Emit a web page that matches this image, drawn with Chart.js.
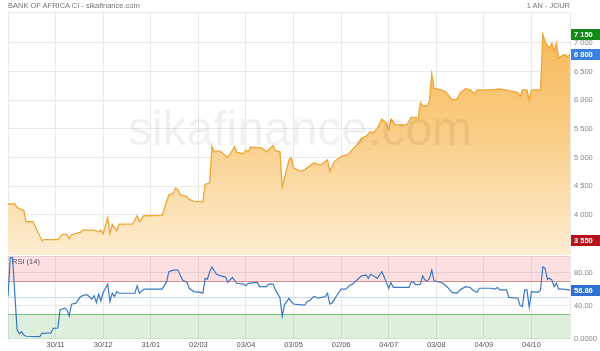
<!DOCTYPE html>
<html>
<head>
<meta charset="utf-8">
<script src="https://cdn.jsdelivr.net/npm/chart.js@4.4.1/dist/chart.umd.min.js"></script>
<style>
  body { margin: 0; background: #fff; }
  #wrap { position: relative; width: 600px; height: 351px; overflow: hidden; font-family: "Liberation Sans", Arial, sans-serif; }
  canvas { position: absolute; left: 0; }
  #priceCanvas { top: 0; }
  #rsiCanvas { top: 256px; }
  .txt { position: absolute; font-size: 7.5px; line-height: 9px; color: #777; white-space: nowrap; }
  #title { left: 8px; top: 1px; }
  #period { right: 30px; top: 1px; }
  #rsiName { left: 12px; top: 257px; color: #556; }
  #mark { left: 0; width: 600px; top: 105px; text-align: center; font-size: 48px; line-height: 48px; color: rgba(0, 0, 0, 0.06); pointer-events: none; }
</style>
</head>
<body>
<div id="wrap">
  <canvas id="priceCanvas" width="600" height="256"></canvas>
  <canvas id="rsiCanvas" width="600" height="95"></canvas>
  <div class="txt" id="title">BANK OF AFRICA CI - sikafinance.com</div>
  <div class="txt" id="period">1 AN - JOUR</div>
  <div class="txt" id="rsiName">RSI (14)</div>
  <div class="txt" id="mark">sikafinance.com</div>
</div>
<script>
// Daily session index (0 = first session of the year window)
const priceDays = [0, 3, 4, 7, 8, 11, 15, 16, 22, 24, 26, 27, 28, 32, 33, 38, 40, 41, 42, 44, 45, 46, 48, 49, 55, 57, 58, 60, 68,
  71, 73, 74, 75, 76, 79, 80, 82, 86, 87, 89, 90, 91, 93, 94, 97, 100, 101, 104, 105, 106, 107, 112, 114, 116, 117, 118, 120,
  121, 124, 125, 126, 129, 131, 135, 138, 141, 142, 144, 147, 150, 152, 154, 156, 158, 160, 161, 163, 165, 167, 168, 169, 171,
  176, 178, 181, 182, 183, 185, 186, 187, 188, 191, 193, 195, 196, 198, 200, 202, 204, 206, 207, 213, 217, 221, 225, 226, 227,
  229, 230, 231, 235, 236, 237, 239, 240, 241, 242, 243, 245, 246, 247, 248];
const priceVals = [4190, 4190, 4130, 4075, 3880, 3880, 3550, 3570, 3570, 3660, 3660, 3580, 3650, 3700, 3735, 3735, 3700, 3735, 3670, 3950, 3670, 3830, 3720, 3840, 3840, 3985, 3880, 3985, 3990,
  4350, 4380, 4470, 4440, 4350, 4320, 4270, 4235, 4230, 4530, 4560, 5195, 5100, 5120, 5100, 5000, 5190, 5090, 5070, 5130, 5100, 5180, 5170, 5100, 5170, 5210, 5120, 5100,
  4490, 4960, 5000, 4820, 4760, 4790, 4905, 4870, 4960, 4760, 4930, 5020, 5050, 5140, 5220, 5340, 5370, 5455, 5430, 5510, 5670, 5600, 5485, 5670, 5570,
  5570, 5705, 5690, 5960, 5900, 5910, 5990, 6460, 6210, 6180, 6150, 6060, 6005, 6020, 6150, 6200, 6180, 6110, 6180, 6180, 6200, 6170, 6135, 6065, 6180,
  6180, 6000, 6180, 6180, 7150, 7020, 6910, 6995, 6850, 6995, 6735, 6790, 6790, 6760, 6800];

const rsiDays = [0, 1, 2, 4, 5, 6, 7, 8, 14, 15, 19, 20, 22, 23, 25, 26, 27, 28, 30, 32, 34, 35, 37, 38, 39, 40, 41, 42, 44, 45, 46, 47, 48, 49,
  56, 57, 58, 60, 68, 70, 71, 73, 75, 76, 77, 79, 80, 82, 85, 86, 87, 88, 89, 90, 92, 94, 96, 97, 99, 101, 104, 105, 106, 110, 111, 114, 115, 117, 118,
  120, 121, 122, 124, 125, 126, 129, 131, 132, 133, 135, 137, 140, 141, 142, 143, 145, 147, 149, 151, 152, 154, 156, 158, 159, 160, 162, 163, 164, 165, 166,
  168, 169, 170, 177, 178, 179, 180, 182, 183, 184, 185, 186, 187, 188, 191, 192, 194, 195, 196, 198, 200, 202, 204, 205, 207, 208, 213, 215, 216, 217,
  220, 221, 225, 226, 227, 228, 229, 230, 231, 234, 235, 236, 237, 238, 239, 240, 241, 242, 243, 245, 248];
const rsiVals = [51, 98, 98, 11, 6, 8.5, 4.5, 3, 2.5, 6.5, 7, 12.6, 13, 35, 37, 35, 27.6, 41.7, 43, 51, 53, 53, 48, 52, 43.7, 54, 45.7, 56, 66, 45, 55, 51, 57, 55,
  55, 64, 55, 60, 60, 69, 81, 83, 83, 77, 71, 68, 61, 57, 56, 55, 73, 72, 81, 86.6, 78, 76, 74.5, 68, 74, 67, 66, 64, 67, 68, 63, 63, 66, 66, 59,
  50, 27, 41, 49, 45, 42, 41, 41, 45, 46, 51, 49, 51, 55, 42, 43, 52, 60, 60, 65, 66, 71, 76, 77, 73, 78, 75, 73, 77, 81, 74.5,
  61, 68, 62, 62, 69, 68, 65, 66, 76, 71, 70, 73, 83, 70, 68, 67, 62, 59, 56, 55, 60, 63, 62, 59, 56, 61, 61, 60, 62, 59,
  59, 50, 49, 40, 39, 59, 59, 38, 57, 56, 59, 87, 85, 72, 73, 71, 63, 67, 60, 60, 58.86];

const monthDays = [21, 42, 63, 84, 105, 126, 147, 168, 189, 210, 231];
const monthLabels = ['30/11', '30/12', '31/01', '02/03', '03/04', '03/05', '02/06', '04/07', '03/08', '04/09', '04/10'];
const priceTicks = [3500, 4000, 4500, 5000, 5500, 6000, 6500, 7000];
const rsiTicks = [0, 40, 80];
const rsiHigh = 70, rsiMid = 50, rsiLow = 30;

const firstDay = priceDays[0];
const lastDay = priceDays[priceDays.length - 1];
const gridDays = [firstDay].concat(monthDays, [lastDay]);
const FONT = '"Liberation Sans", Arial, sans-serif';
const GRID = '#e9e9e9';

function fmtPrice(v) {
  return String(v).replace(/\B(?=(\d{3})+(?!\d))/g, ' ');
}

// keep the plot areas exactly where the layout padding puts them
function noPad(s) {
  s.paddingTop = 0;
  s.paddingBottom = 0;
  s.paddingLeft = 0;
  s.paddingRight = 0;
}

function drawTag(chart, value, text, color) {
  const ctx = chart.ctx;
  const y = chart.scales.y.getPixelForValue(value);
  const x = chart.chartArea.right + 1;
  ctx.save();
  ctx.fillStyle = color;
  ctx.fillRect(x, Math.round(y - 5.5), 29, 11);
  ctx.fillStyle = '#fff';
  ctx.font = 'bold 7.5px ' + FONT;
  ctx.textBaseline = 'middle';
  ctx.fillText(text, x + 3, y + 0.5);
  ctx.restore();
}

const priceTags = {
  id: 'priceTags',
  afterDraw(chart) {
    const maxV = Math.max(...priceVals);
    const minV = Math.min(...priceVals);
    const lastV = priceVals[priceVals.length - 1];
    drawTag(chart, maxV, fmtPrice(maxV), '#13891a');
    drawTag(chart, lastV, fmtPrice(lastV), '#3b7fe3');
    drawTag(chart, minV, fmtPrice(minV), '#b5121b');
  }
};

const rsiBands = {
  id: 'rsiBands',
  beforeDatasetsDraw(chart) {
    const ctx = chart.ctx;
    const a = chart.chartArea;
    const y = chart.scales.y;
    ctx.save();
    ctx.fillStyle = 'rgba(240, 70, 80, 0.17)';
    ctx.fillRect(a.left, y.getPixelForValue(100), a.width, y.getPixelForValue(rsiHigh) - y.getPixelForValue(100));
    ctx.fillStyle = 'rgba(60, 160, 60, 0.17)';
    ctx.fillRect(a.left, y.getPixelForValue(rsiLow), a.width, y.getPixelForValue(0) - y.getPixelForValue(rsiLow));
    const lines = [[rsiHigh, '#e28b8b'], [rsiLow, '#7fbd7f'], [rsiMid, '#c4daf3']];
    lines.forEach(([v, c]) => {
      const py = Math.round(y.getPixelForValue(v)) + 0.5;
      ctx.strokeStyle = c;
      ctx.lineWidth = 1;
      ctx.beginPath();
      ctx.moveTo(a.left, py);
      ctx.lineTo(a.right, py);
      ctx.stroke();
    });
    ctx.restore();
  },
  afterDraw(chart) {
    const lastV = rsiVals[rsiVals.length - 1];
    drawTag(chart, lastV, lastV.toFixed(2), '#2f6fd6');
  }
};

function priceFill(context) {
  const chart = context.chart;
  const a = chart.chartArea;
  if (!a) return 'rgba(246,180,80,0.5)';
  const g = chart.ctx.createLinearGradient(0, a.top, 0, a.bottom);
  g.addColorStop(0, '#f6b653');
  g.addColorStop(0.45, '#f9ca7f');
  g.addColorStop(1, '#fdedd1');
  return g;
}

new Chart(document.getElementById('priceCanvas'), {
  type: 'line',
  data: {
    datasets: [{
      data: priceDays.map((d, i) => ({ x: d, y: priceVals[i] })),
      borderColor: '#f1a534',
      borderWidth: 1.3,
      backgroundColor: priceFill,
      fill: 'start',
      pointRadius: 0,
      tension: 0
    }]
  },
  options: {
    responsive: false,
    animation: false,
    layout: { padding: { left: 8, top: 12, right: 0, bottom: 1 } },
    plugins: { legend: { display: false }, tooltip: { enabled: false } },
    scales: {
      x: {
        type: 'linear',
        min: firstDay,
        max: lastDay,
        afterBuildTicks: s => { s.ticks = gridDays.map(v => ({ value: v })); },
        ticks: { display: false },
        grid: { color: GRID, drawTicks: false },
        border: { display: false },
        afterFit: s => { s.height = 0; noPad(s); }
      },
      y: {
        position: 'right',
        min: 3300,
        max: 7540,
        afterBuildTicks: s => { s.ticks = priceTicks.concat([7540]).map(v => ({ value: v })); },
        ticks: {
          callback: v => (v === 3500 || v === 7540) ? '' : fmtPrice(v),
          color: '#888',
          font: { size: 7.5, family: FONT },
          padding: 4
        },
        grid: { color: GRID, drawTicks: false },
        border: { display: false },
        afterFit: s => { s.width = 30; noPad(s); }
      }
    }
  },
  plugins: [priceTags]
});

new Chart(document.getElementById('rsiCanvas'), {
  type: 'line',
  data: {
    datasets: [{
      data: rsiDays.map((d, i) => ({ x: d, y: rsiVals[i] })),
      borderColor: '#3b78c4',
      borderWidth: 1.2,
      fill: false,
      pointRadius: 0,
      tension: 0
    }]
  },
  options: {
    responsive: false,
    animation: false,
    layout: { padding: { left: 8, top: 0, right: 0, bottom: 0 } },
    plugins: { legend: { display: false }, tooltip: { enabled: false } },
    scales: {
      x: {
        type: 'linear',
        min: firstDay,
        max: lastDay,
        afterBuildTicks: s => { s.ticks = gridDays.map(v => ({ value: v })); },
        ticks: {
          callback: v => { const k = monthDays.indexOf(v); return k >= 0 ? monthLabels[k] : ''; },
          color: '#555',
          font: { size: 7.5, family: FONT },
          padding: 2,
          maxRotation: 0,
          autoSkip: false
        },
        grid: { color: GRID, drawTicks: false },
        border: { display: false },
        afterFit: s => { s.height = 12.25; noPad(s); }
      },
      y: {
        position: 'right',
        min: 0,
        max: 100,
        afterBuildTicks: s => { s.ticks = rsiTicks.concat([100]).map(v => ({ value: v })); },
        ticks: {
          callback: v => v === 100 ? '' : (v === 0 ? '0.0000' : v.toFixed(2)),
          color: '#888',
          font: { size: 7.5, family: FONT },
          padding: 4
        },
        grid: { color: GRID, drawTicks: false },
        border: { display: false },
        afterFit: s => { s.width = 30; noPad(s); }
      }
    }
  },
  plugins: [rsiBands]
});
</script>
</body>
</html>
